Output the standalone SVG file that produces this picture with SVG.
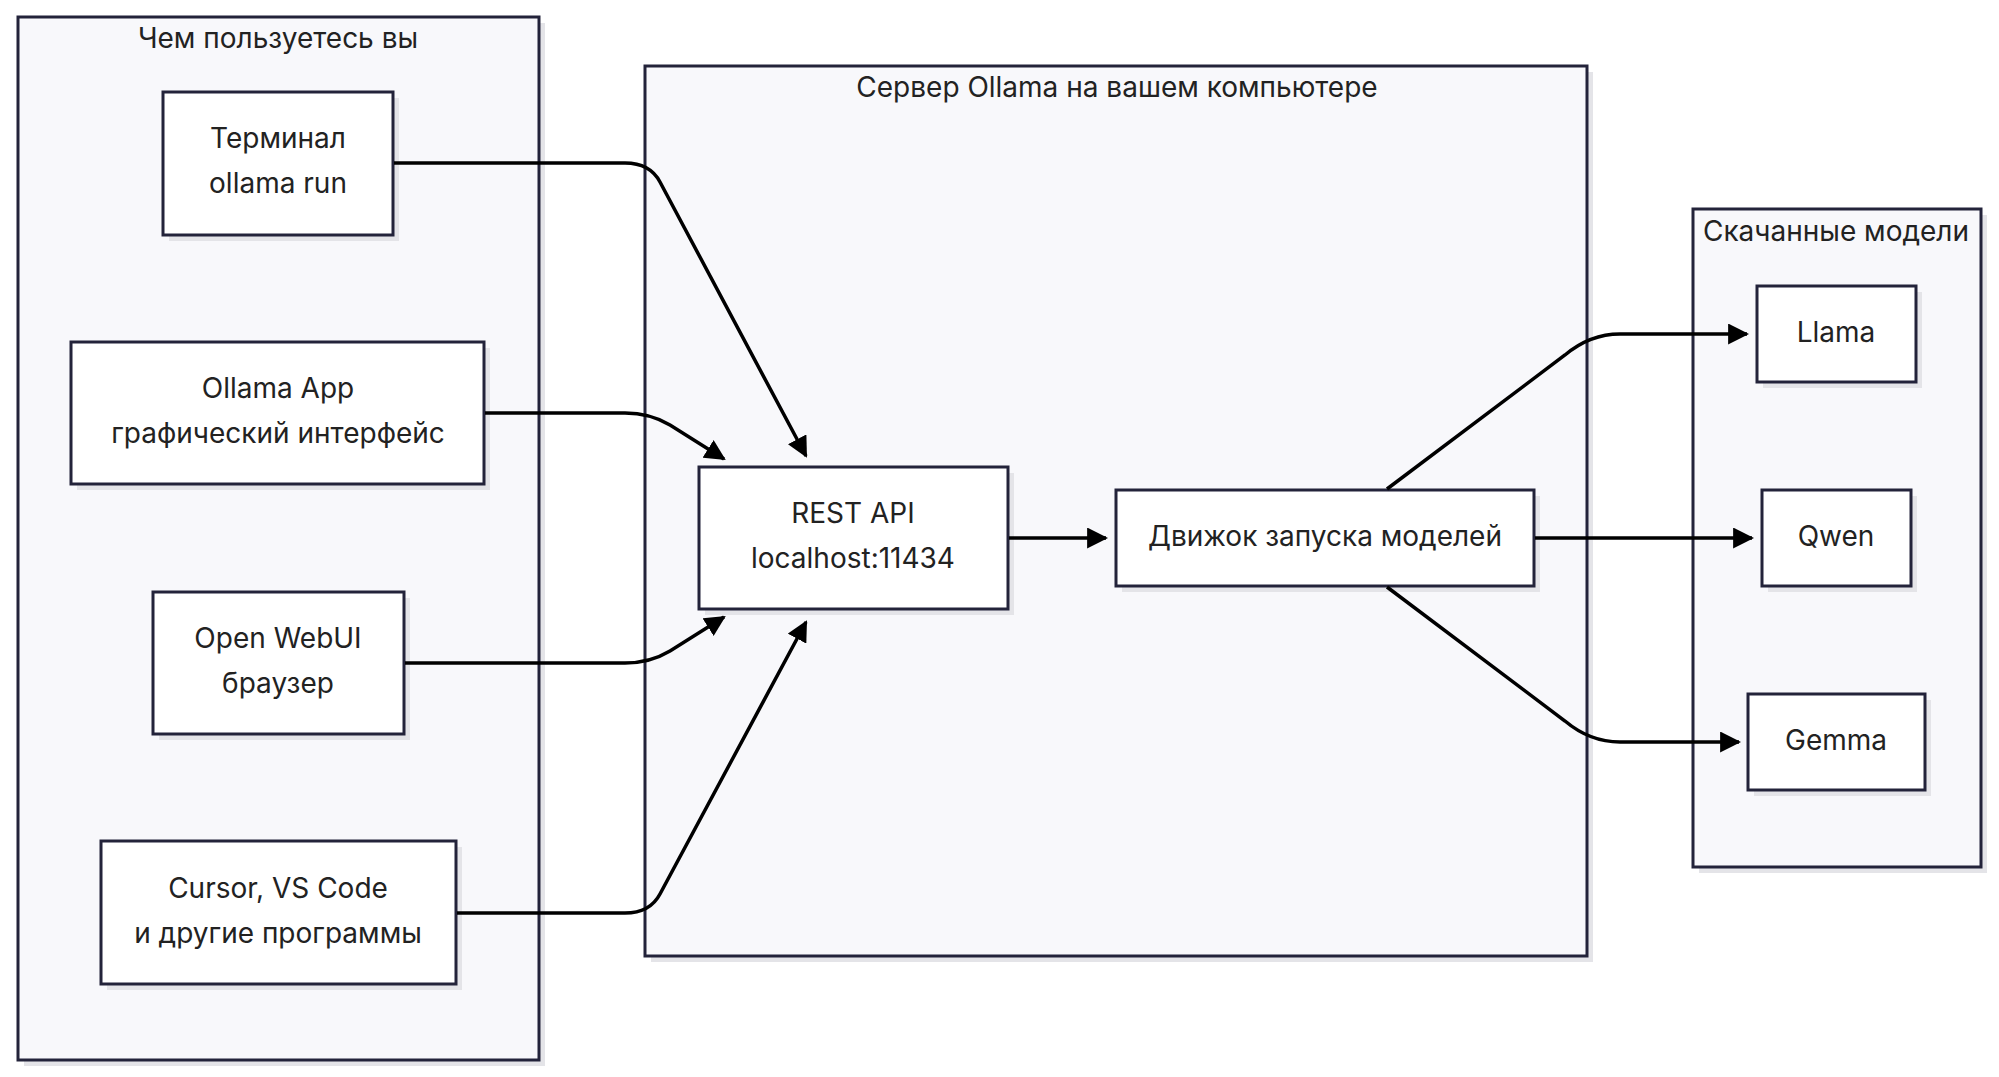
<svg xmlns="http://www.w3.org/2000/svg" width="1999" height="1077" viewBox="0 0 1999 1077">
<style>
.cl{fill:#f8f8fb;stroke:#23233a;stroke-width:3}
.sh{fill:#e4e4e8}
.nd{fill:#fff;stroke:#23233a;stroke-width:3}
text{font-family:"Inter","Liberation Sans",sans-serif;font-size:28px;fill:#222;text-anchor:middle;dominant-baseline:middle}
.e{fill:none;stroke:#000;stroke-width:3.5;marker-end:url(#b)}
</style>
<defs><marker id="b" viewBox="0 0 10 10" refX="9" refY="5" markerWidth="6" markerHeight="6" orient="auto"><path d="M0,0L10,5L0,10z" fill="#000"/></marker></defs>
<rect x="0" y="0" width="1999" height="1077" fill="#fff"/>
<g id="cluster-users"><rect class="sh" x="24" y="23" width="521" height="1043"/><rect class="cl" x="18" y="17" width="521" height="1043"/><text x="278" y="40">Чем пользуетесь вы</text></g>
<g id="cluster-server"><rect class="sh" x="651" y="72" width="942" height="890"/><rect class="cl" x="645" y="66" width="942" height="890"/><text x="1117" y="89">Сервер Ollama на вашем компьютере</text></g>
<g id="cluster-models"><rect class="sh" x="1699" y="215" width="288" height="658"/><rect class="cl" x="1693" y="209" width="288" height="658"/><text x="1836" y="233">Скачанные модели</text></g>
<g id="terminal"><rect class="sh" x="169" y="98" width="230" height="143"/><rect class="nd" x="163" y="92" width="230" height="143"/><text x="278" y="140">Терминал</text><text x="278" y="185">ollama run</text></g>
<g id="app"><rect class="sh" x="77" y="348" width="413" height="142"/><rect class="nd" x="71" y="342" width="413" height="142"/><text x="278" y="390">Ollama App</text><text x="278" y="435">графический интерфейс</text></g>
<g id="webui"><rect class="sh" x="159" y="598" width="251" height="142"/><rect class="nd" x="153" y="592" width="251" height="142"/><text x="278" y="640">Open WebUI</text><text x="278" y="685">браузер</text></g>
<g id="cursor"><rect class="sh" x="107" y="847" width="355" height="143"/><rect class="nd" x="101" y="841" width="355" height="143"/><text x="278" y="890">Cursor, VS Code</text><text x="278" y="935">и другие программы</text></g>
<g id="rest"><rect class="sh" x="705" y="473" width="309" height="142"/><rect class="nd" x="699" y="467" width="309" height="142"/><text x="853" y="515">REST API</text><text x="853" y="560">localhost:11434</text></g>
<g id="engine"><rect class="sh" x="1122" y="496" width="418" height="96"/><rect class="nd" x="1116" y="490" width="418" height="96"/><text x="1325" y="538">Движок запуска моделей</text></g>
<g id="llama"><rect class="sh" x="1763" y="292" width="159" height="96"/><rect class="nd" x="1757" y="286" width="159" height="96"/><text x="1836" y="334">Llama</text></g>
<g id="qwen"><rect class="sh" x="1768" y="496" width="149" height="96"/><rect class="nd" x="1762" y="490" width="149" height="96"/><text x="1836" y="538">Qwen</text></g>
<g id="gemma"><rect class="sh" x="1754" y="700" width="177" height="96"/><rect class="nd" x="1748" y="694" width="177" height="96"/><text x="1836" y="742">Gemma</text></g>
<g id="connectors">
<path class="e" d="M394,163H625Q650,163 660,182L806,456"/>
<path class="e" d="M485,413H625Q650,413 670,425L724,459"/>
<path class="e" d="M405,663H625Q650,663 670,651L724,617"/>
<path class="e" d="M457,913H625Q650,913 660,894L806,622"/>
<path class="e" d="M1009,538H1106"/>
<path class="e" d="M1387,489L1565,355Q1590,334 1620,334H1747"/>
<path class="e" d="M1535,538H1752"/>
<path class="e" d="M1387,587L1565,721Q1590,742 1620,742H1739"/>
</g>
</svg>
